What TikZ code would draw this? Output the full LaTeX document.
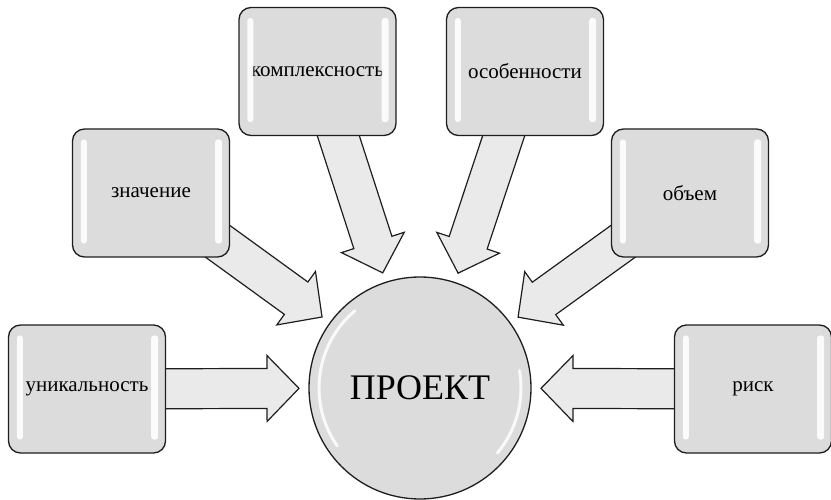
\documentclass[tikz,border=0pt]{standalone}
\usepackage{fontspec}
\setmainfont{Liberation Serif}
\usetikzlibrary{calc}
\definecolor{boxfill}{HTML}{DCDCDC}
\definecolor{arrfill}{HTML}{EAEAEA}
\definecolor{edge}{HTML}{1E1E1E}
\pgfdeclarelayer{bg}
\pgfsetlayers{bg,main}
\tikzset{
 card/.style={draw=edge, line width=1.3pt, fill=boxfill, rounded corners=12pt,
   minimum width=157pt, minimum height=128pt, inner sep=0pt,
   font=\fontsize{21}{24}\selectfont},
 hub/.style={circle, draw=edge, line width=1.3pt, fill=boxfill, minimum size=222pt,
   inner sep=0pt, font=\fontsize{36}{40}\selectfont},
 arrowbody/.style={draw=edge, line width=1.2pt, fill=arrfill, line join=miter},
 gloss/.style={fill=white, rounded corners=3pt, opacity=0.9},
}
\newcommand\blockarr[2]{%
 \coordinate (#1T) at ($(#2.center)!121pt!(#1.center)$);
 \coordinate (#1H) at ($(#2.center)!153pt!(#1.center)$);
 \filldraw[arrowbody] ($(#1.center)!20pt!90:(#1T)$) -- ($(#1H)!20pt!90:(#1T)$)
   -- ($(#1H)!33pt!90:(#1T)$) -- (#1T) -- ($(#1H)!33pt!-90:(#1T)$)
   -- ($(#1H)!20pt!-90:(#1T)$) -- ($(#1.center)!20pt!-90:(#1T)$) -- cycle;
}
\newcommand\cardgloss[1]{%
 \fill[gloss] ($(#1.north west)+(9pt,-11pt)$) rectangle ($(#1.south west)+(15pt,14pt)$);
 \fill[gloss] ($(#1.north east)+(-15pt,-11pt)$) rectangle ($(#1.south east)+(-8pt,14pt)$);
}
\begin{document}
\begin{tikzpicture}[x=1pt,y=1pt]
\useasboundingbox (0,0) rectangle (831,499);
\node[hub] (c) at (420,111) {ПРОЕКТ};
\node[card] (u) at (87,110) {уникальность};
\node[card] (z) at (151,306) {значение};
\node[card] (k) at (317.5,427.5) {комплексность};
\node[card] (o) at (525,427.5) {особенности};
\node[card] (v) at (690,306) {объем};
\node[card] (r) at (753,110) {риск};
\foreach \b in {u,z,k,o,v,r}{\cardgloss{\b}}
\draw[white, line width=3pt, opacity=0.85, line cap=round]
  ($(c.center)+(130:101pt)$) arc[start angle=130, end angle=215, radius=101pt];
\draw[white, line width=3pt, opacity=0.85, line cap=round]
  ($(c.center)+(-40:101pt)$) arc[start angle=-40, end angle=10, radius=101pt];
\begin{pgfonlayer}{bg}
\foreach \b in {u,z,k,o,v,r}{\blockarr{\b}{c}}
\end{pgfonlayer}
\end{tikzpicture}
\end{document}
